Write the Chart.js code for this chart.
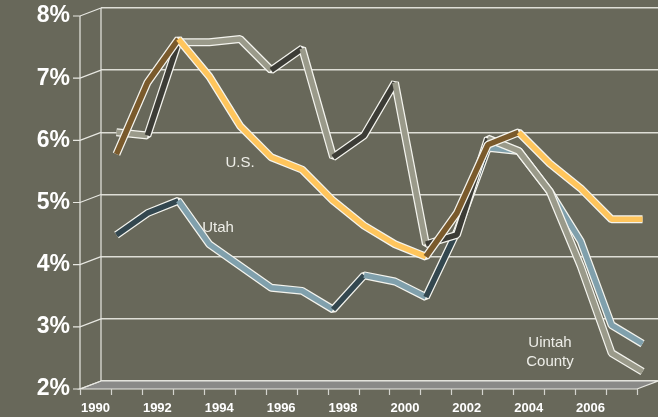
<!DOCTYPE html>
<html>
<head>
<meta charset="utf-8">
<script src="https://cdn.jsdelivr.net/npm/chart.js"></script>
<style>
  html, body { margin: 0; padding: 0; background: #68685a; }
  #wrap { width: 658px; height: 417px; }
</style>
</head>
<body>
<div id="wrap"><canvas id="lineChart"></canvas></div>
<script>
// Data (unemployment rate, %)
const years = ['1990', '1991', '1992', '1993', '1994', '1995', '1996', '1997', '1998',
               '1999', '2000', '2001', '2002', '2003', '2004', '2005', '2006', '2007'];
const usValues = [5.65, 6.8, 7.5, 6.9, 6.1, 5.6, 5.4, 4.9, 4.5, 4.2, 4.0, 4.7, 5.8, 6.0, 5.5, 5.1, 4.6, 4.6];
const utahValues = [4.35, 4.7, 4.9, 4.2, 3.85, 3.5, 3.45, 3.15, 3.7, 3.6, 3.35, 4.4, 5.75, 5.7, 5.05, 4.25, 2.9, 2.6];
const uintahValues = [6.0, 5.95, 7.45, 7.45, 7.5, 7.0, 7.35, 5.6, 5.95, 6.8, 4.2, 4.35, 5.9, 5.7, 5.05, 3.85, 2.45, 2.15];
const yTicks = [2, 3, 4, 5, 6, 7, 8];

const DX = 21, DY = 8; // fake 3D depth of the walls
const FONT = "'Liberation Sans', Arial, sans-serif";

// ribbon: light face when falling, dark side when rising
function ribbon(label, data, face, side, order) {
    return [{
        label: label,
        data: data,
        borderColor: face,
        borderWidth: 5.5,
        borderJoinStyle: 'bevel',
        pointRadius: 0,
        order: order,
        segment: {
            borderColor: ctx => ctx.p1.parsed.y > ctx.p0.parsed.y + 0.05 ? side : face
        }
    }, {
        label: label + ' outline',
        data: data,
        borderColor: '#f4f4ee',
        borderWidth: 8,
        borderJoinStyle: 'bevel',
        pointRadius: 0,
        order: order + 1
    }];
}

const backdrop = {
    id: 'backdrop',
    beforeDraw(chart) {
        const c = chart.ctx;
        c.save();
        c.fillStyle = '#68685a';
        c.fillRect(0, 0, chart.width, chart.height);
        c.restore();
    },
    beforeDatasetsDraw(chart) {
        const c = chart.ctx;
        const a = chart.chartArea;
        const y = chart.scales.y;
        c.save();
        c.strokeStyle = '#e8e8e2';
        c.lineWidth = 1.2;

        // floor slab
        c.beginPath();
        c.moveTo(a.left - DX, a.bottom + DY);
        c.lineTo(a.right - DX, a.bottom + DY);
        c.lineTo(a.right, a.bottom);
        c.lineTo(a.left, a.bottom);
        c.closePath();
        c.fillStyle = '#8a8a88';
        c.fill();
        c.stroke();

        // back wall left edge and front axis line
        c.beginPath();
        c.moveTo(a.left, a.top);
        c.lineTo(a.left, a.bottom);
        c.moveTo(a.left - DX, y.getPixelForValue(8) + DY);
        c.lineTo(a.left - DX, a.bottom + DY);
        c.stroke();

        // tick connectors from the front axis to the back wall
        c.beginPath();
        yTicks.forEach(v => {
            const py = y.getPixelForValue(v);
            c.moveTo(a.left - DX - 7, py + DY);
            c.lineTo(a.left - DX, py + DY);
            c.lineTo(a.left, py);
        });
        c.stroke();

        // x tick marks below the floor
        c.strokeStyle = '#d4d4ce';
        c.beginPath();
        const w = (a.right - a.left) / years.length;
        for (let i = 0; i <= years.length; i++) {
            const px = Math.round(a.left - DX + i * w) + 0.5;
            c.moveTo(px, a.bottom + DY);
            c.lineTo(px, a.bottom + DY + 6);
        }
        c.stroke();
        c.restore();
    },
    afterDraw(chart) {
        const c = chart.ctx;
        c.save();
        c.fillStyle = '#eeeee8';
        c.font = '15px ' + FONT;
        c.textAlign = 'center';
        c.textBaseline = 'middle';
        c.fillText('U.S.', 240, 163);
        c.fillText('Utah', 218, 228);
        c.fillText('Uintah', 550, 343);
        c.fillText('County', 550, 362);
        c.restore();
    }
};

const lineConfig = {
    type: 'line',
    data: {
        labels: years,
        datasets: [
            ...ribbon('U.S.', usValues, '#ffc55c', '#7a5a2c', 0),
            ...ribbon('Uintah County', uintahValues, '#9a9a8a', '#3c3c36', 2),
            ...ribbon('Utah', utahValues, '#80a0ac', '#33474f', 4)
        ]
    },
    plugins: [backdrop],
    options: {
        responsive: true,
        maintainAspectRatio: false,
        animation: false,
        layout: { padding: { top: 8, left: 0, right: 0, bottom: 0 } },
        plugins: {
            legend: { display: false },
            tooltip: { enabled: false }
        },
        scales: {
            x: {
                offset: true,
                grid: { display: false },
                border: { display: false },
                ticks: {
                    autoSkip: false,
                    maxRotation: 0,
                    color: '#ffffff',
                    font: { family: FONT, size: 13, weight: 'bold' },
                    padding: 12,
                    labelOffset: -DX,
                    callback: (v, i) => i % 2 === 0 ? years[i] : ''
                },
                afterFit: s => { s.height = 36; s.paddingLeft = 0; s.paddingRight = 0; }
            },
            y: {
                min: 2,
                max: 8,
                grid: { color: '#deded6', lineWidth: 1.5, drawTicks: false },
                border: { display: false },
                ticks: {
                    stepSize: 1,
                    color: '#ffffff',
                    font: { family: FONT, size: 23, weight: 'bold' },
                    padding: 31,
                    labelOffset: DY,
                    callback: v => v + '%'
                },
                afterFit: s => { s.width = 101; s.paddingTop = 0; s.paddingBottom = 0; }
            }
        }
    }
};

new Chart(document.getElementById('lineChart').getContext('2d'), lineConfig);
</script>
</body>
</html>
